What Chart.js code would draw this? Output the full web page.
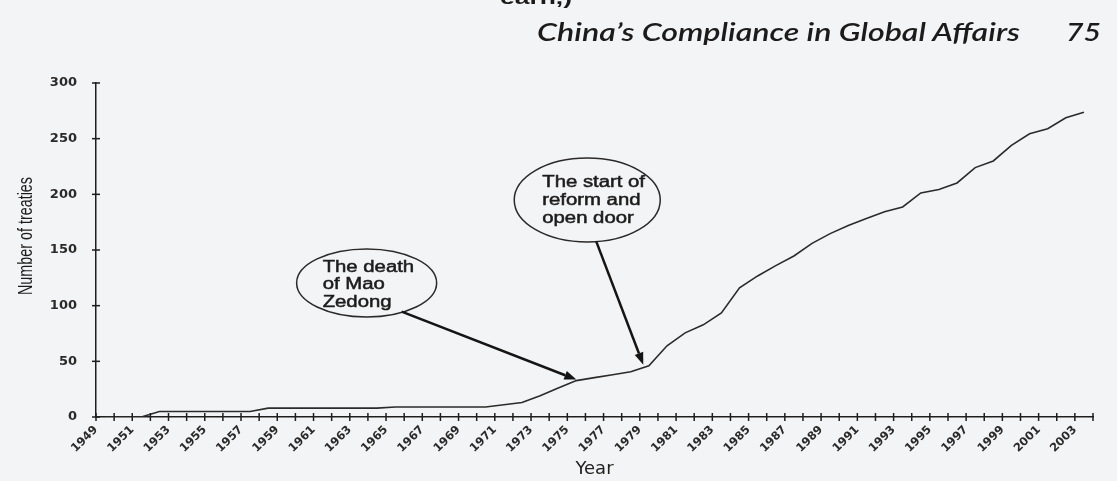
<!DOCTYPE html>
<html><head><meta charset="utf-8">
<script src="https://cdn.jsdelivr.net/npm/chart.js@4.4.1/dist/chart.umd.min.js"></script>
<style>
html,body{margin:0;padding:0;background:#f3f4f6;width:1117px;height:481px;overflow:hidden;}
#wrap{position:relative;width:1117px;height:481px;}
canvas{position:absolute;left:0;top:0;}
.hdr{position:absolute;font-family:Lato,'Open Sans',sans-serif;font-style:italic;font-weight:600;color:#1b1b1b;white-space:nowrap;transform-origin:0 0;line-height:1;}
</style></head><body>
<div id="wrap">
<canvas id="c" width="1117" height="481"></canvas>
<div class="hdr" id="cut" style="left:500px;top:-12px;font-size:19px;font-style:normal;font-weight:bold;font-family:'Liberation Sans',sans-serif;">earn,)</div>
<div class="hdr" id="h1" style="left:537px;top:19px;font-size:25px;">China’s Compliance in Global Affairs</div>
<div class="hdr" id="h2" style="left:1066px;top:19px;font-size:25px;">75</div>
</div>
<script>
const years = ['1949','1950','1951','1952','1953','1954','1955','1956','1957','1958',
  '1959','1960','1961','1962','1963','1964','1965','1966','1967','1968',
  '1969','1970','1971','1972','1973','1974','1975','1976','1977','1978',
  '1979','1980','1981','1982','1983','1984','1985','1986','1987','1988',
  '1989','1990','1991','1992','1993','1994','1995','1996','1997','1998',
  '1999','2000','2001','2002','2003'];
const treaties = [0,0,0,5,5,5,5,5,5,8,
  8,8,8,8,8,8,9,9,9,9,
  9,9,11,13,19,26,32.7,35.4,38,40.7,
  46,64,75.6,82.8,93.5,116,126.7,136,144.6,156,
  164.7,172,178.3,184.4,188.7,201.3,204.3,210.2,224,230,
  244,254.4,259,268.8,273.8];
const yTicks = [0,50,100,150,200,250,300];
const yLabels = ['0','50','100','150','200','250','300'];
const yTitle = 'Number of treaties';
const deathLines = ['The death','of Mao','Zedong'];
const reformLines = ['The start of','reform and','open door'];

// annotation anchors in data coordinates (category index, value)
const deathBubble = {x:14.43, y:120.4, rx:70, ry:34, lines:deathLines, dx:-44, dys:[-11,6.5,24]};
const reformBubble = {x:26.6, y:194.9, rx:73, ry:42, lines:reformLines, dx:-45, dys:[-13,5,22.5]};
const deathArrow = {from:{x:16.36, y:94.6}, to:{x:26.0, y:33.6}};
const reformArrow = {from:{x:27.1, y:157.5}, to:{x:29.69, y:47}};

const INK = '#1e1e1e';

const axisTicks = {
  id:'axisTicks',
  afterDraw(chart){
    const {ctx, scales:{x, y}, chartArea:a} = chart;
    ctx.save();
    ctx.strokeStyle = INK; ctx.lineWidth = 1.5;
    const step = x.getPixelForValue(1) - x.getPixelForValue(0);
    const x0 = x.getPixelForValue(0) - step/2;
    for (let i = 0; i <= years.length; i++) {
      const px = x0 + i*step;
      ctx.beginPath(); ctx.moveTo(px, a.bottom-4); ctx.lineTo(px, a.bottom+4); ctx.stroke();
    }
    yTicks.forEach(v => {
      const py = y.getPixelForValue(v);
      ctx.beginPath(); ctx.moveTo(a.left-4, py); ctx.lineTo(a.left+4, py); ctx.stroke();
    });
    // y axis title (drawn stretched like the scanned original)
    ctx.fillStyle = '#1c1c1c';
    ctx.font = '20px "Liberation Sans Narrow", "Liberation Sans", sans-serif';
    ctx.textAlign = 'center'; ctx.textBaseline = 'middle';
    const w = ctx.measureText(yTitle).width;
    ctx.translate(26, (a.top + a.bottom)/2 - 14);
    ctx.rotate(-Math.PI/2);
    ctx.scale(118 / w, 1);
    ctx.fillText(yTitle, 0, 0);
    ctx.restore();
  }
};

function drawArrow(ctx, x1, y1, x2, y2){
  const ang = Math.atan2(y2-y1, x2-x1);
  const hl = 12, hw = 4.5;
  const bx = x2 - hl*Math.cos(ang), by = y2 - hl*Math.sin(ang);
  ctx.beginPath(); ctx.moveTo(x1, y1); ctx.lineTo(bx, by); ctx.stroke();
  ctx.beginPath();
  ctx.moveTo(x2, y2);
  ctx.lineTo(bx + hw*Math.sin(ang), by - hw*Math.cos(ang));
  ctx.lineTo(bx - hw*Math.sin(ang), by + hw*Math.cos(ang));
  ctx.closePath(); ctx.fill();
}

const annotations = {
  id:'annotations',
  afterDatasetsDraw(chart){
    const {ctx, scales:{x, y}} = chart;
    ctx.save();
    [deathBubble, reformBubble].forEach(b => {
      const cx = x.getPixelForValue(b.x);
      const cy = y.getPixelForValue(b.y);
      ctx.strokeStyle = '#2a2a2a'; ctx.lineWidth = 1.5;
      ctx.beginPath(); ctx.ellipse(cx, cy, b.rx, b.ry, 0, 0, Math.PI*2); ctx.stroke();
      ctx.fillStyle = '#1c1c1c'; ctx.strokeStyle = '#1c1c1c'; ctx.lineWidth = 0.5;
      ctx.font = '16px "Liberation Sans", Arial, sans-serif';
      ctx.textBaseline = 'alphabetic'; ctx.textAlign = 'left';
      b.lines.forEach((t, i) => {
        ctx.save();
        ctx.translate(cx + b.dx, cy + b.dys[i]);
        ctx.scale(1.27, 1);
        ctx.fillText(t, 0, 0);
        ctx.strokeText(t, 0, 0);
        ctx.restore();
      });
    });
    ctx.strokeStyle = '#151515'; ctx.fillStyle = '#151515'; ctx.lineWidth = 2.5;
    [deathArrow, reformArrow].forEach(ar => {
      drawArrow(ctx, x.getPixelForValue(ar.from.x), y.getPixelForValue(ar.from.y),
                     x.getPixelForValue(ar.to.x), y.getPixelForValue(ar.to.y));
    });
    ctx.restore();
  }
};

new Chart(document.getElementById('c'), {
  type:'line',
  data:{ labels: years, datasets:[{ data: treaties, borderColor:'#2b2b2b', borderWidth:1.6, pointRadius:0, tension:0, fill:false }] },
  options:{
    responsive:false, animation:false, devicePixelRatio:1, events:[],
    layout:{ padding:{ top:83, right:24, bottom:0, left:0 } },
    plugins:{ legend:{display:false}, tooltip:{enabled:false} },
    scales:{
      x:{
        type:'category', offset:true,
        grid:{ display:false, offset:true, drawTicks:false },
        border:{ display:true, color:INK, width:1.5 },
        ticks:{ autoSkip:false, minRotation:45, maxRotation:45, labelOffset:-9, padding:6, color:'#2a2a2a',
          font:{ family:'"DejaVu Sans", sans-serif', size:11.5, weight:'bold' },
          callback(v, i){ return i % 2 === 0 ? years[i] : ''; } },
        title:{ display:true, text:'Year', color:'#222', font:{ family:'"DejaVu Sans", sans-serif', size:18 }, padding:{ top:0, bottom:1 } },
        afterFit(s){ s.height = 64; }
      },
      y:{
        min:0, max:300,
        afterBuildTicks(s){ s.ticks = yTicks.map(v => ({ value:v })); },
        grid:{ display:false, drawTicks:false },
        border:{ display:true, color:INK, width:1.5 },
        ticks:{ padding:19, color:'#2a2a2a', font:{ family:'"DejaVu Sans", sans-serif', size:13, weight:'bold' },
          callback(v){ const k = yTicks.indexOf(v); return k >= 0 ? yLabels[k] : ''; } },
        title:{ display:false },
        afterFit(s){ s.width = 96; }
      }
    }
  },
  plugins:[axisTicks, annotations]
});

function fitText(id, target){
  const el = document.getElementById(id);
  const w = el.getBoundingClientRect().width;
  if (w > 0) el.style.transform = 'scaleX(' + (target / w) + ')';
}
fitText('h1', 483);
fitText('h2', 35);
fitText('cut', 72);
</script>
</body></html>
